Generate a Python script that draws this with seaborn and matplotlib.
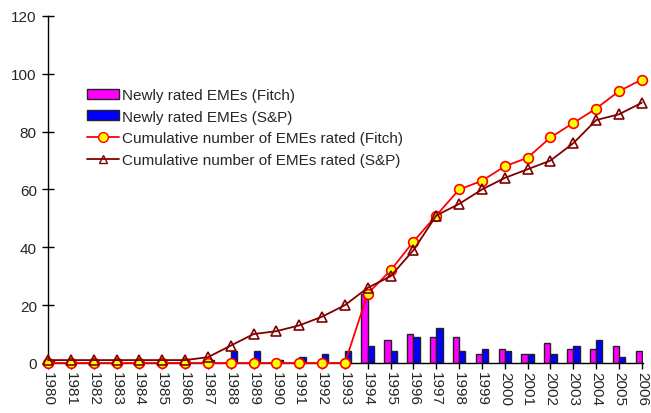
import numpy as np
import pandas as pd
import matplotlib
matplotlib.use("Agg")
import matplotlib.pyplot as plt
import seaborn as sns
from matplotlib.patches import Patch
from matplotlib.lines import Line2D

years = [str(y) for y in range(1980, 2007)]
new_fitch = [0, 0, 0, 0, 0, 0, 0, 0, 0, 0, 0, 0, 0, 0, 24, 8, 10, 9, 9, 3, 5, 3, 7, 5, 5, 6, 4]
new_sp = [1, 0, 0, 0, 0, 0, 0, 1, 4, 4, 1, 2, 3, 4, 6, 4, 9, 12, 4, 5, 4, 3, 3, 6, 8, 2, 0]
cum_fitch = [0, 0, 0, 0, 0, 0, 0, 0, 0, 0, 0, 0, 0, 0, 24, 32, 42, 51, 60, 63, 68, 71, 78, 83, 88, 94, 98]
cum_sp = [1, 1, 1, 1, 1, 1, 1, 2, 6, 10, 11, 13, 16, 20, 26, 30, 39, 51, 55, 60, 64, 67, 70, 76, 84, 86, 90]
labels = ["Newly rated EMEs (Fitch)", "Newly rated EMEs (S&P)",
          "Cumulative number of EMEs rated (Fitch)", "Cumulative number of EMEs rated (S&P)"]

sns.set_style("white")
plt.rcParams['font.family'] = ['Liberation Sans', 'DejaVu Sans']

df = pd.DataFrame({
    "year": years * 2,
    "value": new_fitch + new_sp,
    "agency": [labels[0]] * len(years) + [labels[1]] * len(years),
})

fig = plt.figure(figsize=(6.51, 4.14), dpi=100)
ax = fig.add_axes([0.0737, 0.1208, 0.9877 - 0.0737, 0.959 - 0.1208])

sns.barplot(data=df, x="year", y="value", hue="agency", order=years,
            palette=["#FF00FF", "#0000FF"], width=0.55, edgecolor="#222222",
            linewidth=1.0, ax=ax, legend=False, saturation=1)

xpos = np.arange(len(years))
sns.lineplot(x=xpos, y=cum_fitch, ax=ax, color="#FF0000", linewidth=1.3,
             marker="o", markersize=7, markerfacecolor="#FFFF00",
             markeredgecolor="#FF0000", markeredgewidth=1.2, clip_on=False, zorder=3)
sns.lineplot(x=xpos, y=cum_sp, ax=ax, color="#800000", linewidth=1.3,
             marker="^", markersize=7, markerfacecolor="none",
             markeredgecolor="#800000", markeredgewidth=1.2, clip_on=False, zorder=4)

ax.set_xlim(0, 26.05)
ax.set_ylim(0, 120)
ax.set_yticks(range(0, 121, 20))
ax.set_xticks(xpos)
ax.set_xticklabels(years, rotation=-90, fontsize=11)
ax.tick_params(axis='y', direction='inout', length=8, width=1, labelsize=11, color='black', left=True, pad=4)
ax.tick_params(axis='x', direction='out', length=4, width=1, color='black', bottom=True, pad=2)
ax.set_xlabel("")
ax.set_ylabel("")
for s in ["top", "right"]:
    ax.spines[s].set_visible(False)
for s in ["left", "bottom"]:
    ax.spines[s].set_color("black")
    ax.spines[s].set_linewidth(1)

handles = [
    Patch(facecolor="#FF00FF", edgecolor="#222222", linewidth=1.0),
    Patch(facecolor="#0000FF", edgecolor="#222222", linewidth=1.0),
    Line2D([], [], color="#FF0000", marker="o", markersize=7, markerfacecolor="#FFFF00",
           markeredgecolor="#FF0000", linewidth=1.3),
    Line2D([], [], color="#800000", marker="^", markersize=6, markerfacecolor="none",
           markeredgecolor="#800000", linewidth=1.3),
]
ax.legend(handles=handles, labels=labels, loc="upper left", bbox_to_anchor=(0.055, 0.81),
          frameon=False, fontsize=11, handlelength=2.1, handleheight=0.65,
          handletextpad=0.2, labelspacing=0.5, borderaxespad=0)

fig.savefig("out.png", dpi=100)
